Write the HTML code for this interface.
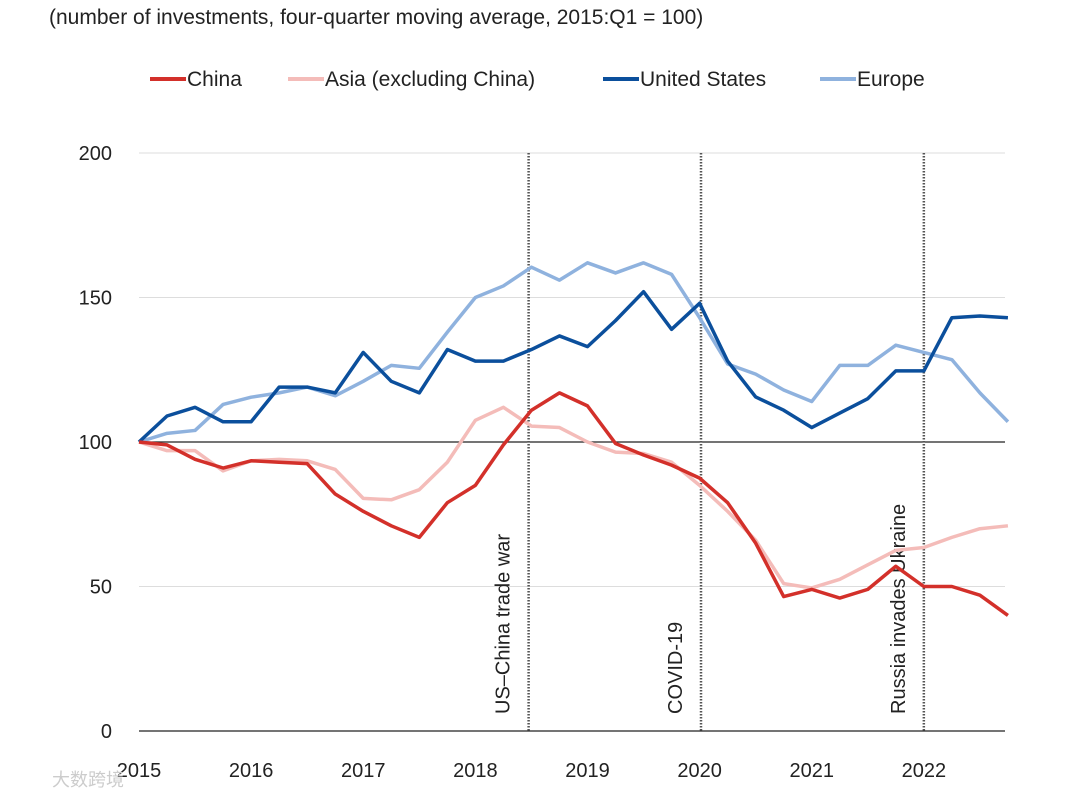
<!DOCTYPE html>
<html><head><meta charset="utf-8"><style>
body{margin:0;background:#fff;font-family:"Liberation Sans",sans-serif;}
svg text{font-family:"Liberation Sans",sans-serif;fill:#222;}
</style></head><body>
<svg width="1080" height="802" viewBox="0 0 1080 802">
<text x="49" y="24" font-size="21">(number of investments, four-quarter moving average, 2015:Q1 = 100)</text>
<g id="legend"></g>
<g id="grid"></g><g id="events"></g><g id="lines"></g><g id="axes"></g>
<text x="52" y="786" font-size="18" style="fill:#ccc">大数跨境</text>
</svg>
<script>
const years=["2015","2016","2017","2018","2019","2020","2021","2022"];
const yTicks=[0,50,100,150,200];
const china=[100,99,94,91,93.5,93,92.5,82,76,71,67,79,85,99,111,117,112.5,99.5,95.5,92,87.5,79,65,46.5,49,46,49,57,50,50,47,40];
const asia=[100,97,97,90,93.5,94,93.5,90.5,80.5,80,83.5,93,107.5,112,105.5,105,100,96.5,96,93,85,76,66,51,49.5,52.5,57.5,62.5,63.5,67,70,71];
const us=[100,109,112,107,107,119,119,117,131,121,117,132,128,128,132,136.7,133,142,152,139,148,128,115.6,111,105,110,115,124.6,124.6,143,143.6,143];
const europe=[100,103,104,113,115.5,117,119,116,121,126.5,125.5,138,150,154,160.5,156,162,158.5,162,158,143,127,123.5,118,114,126.5,126.5,133.5,131,128.5,117,107];
const eventNames=["US–China trade war","COVID-19","Russia invades Ukraine"];
const eventQ=[13.9,20.05,28];
const NS="http://www.w3.org/2000/svg";
const X=q=>139+q*28.03, Y=v=>731-v*2.89;
function mk(tag,attrs,parent,text){const e=document.createElementNS(NS,tag);for(const k in attrs)e.setAttribute(k,attrs[k]);if(text!==undefined)e.textContent=text;document.getElementById(parent).appendChild(e);return e;}
yTicks.forEach(v=>{
 const l=mk('line',{x1:139,x2:1005,y1:Y(v),y2:Y(v),stroke:(v===100||v===0)?'#222':'#ddd','stroke-width':(v===100||v===0)?1.3:1},'grid');
 
 
 const t=mk('text',{x:112,y:Y(v)+7,'font-size':20,'text-anchor':'end'},'axes',String(v));
 
 
});
years.forEach((yr,i)=>{
 const t=mk('text',{x:X(i*4),y:777,'font-size':20,'text-anchor':'middle'},'axes',yr);
 
 
});
eventNames.forEach((n,i)=>{
 const x=X(eventQ[i]);
 const l=mk('line',{x1:x,x2:x,y1:153,y2:731,stroke:'#555','stroke-width':2.5,'stroke-dasharray':'1.5,1.5'},'events');
 
 
 const t=mk('text',{x:0,y:0,'font-size':20,fill:'#333',transform:`translate(${x-19},714) rotate(-90)`},'events',n);
 
 
});
const series=[[asia,'#f4bcb9','asia'],[europe,'#8fb2de','europe'],[us,'#0b4f9c','united-states'],[china,'#d3302a','china']];
series.forEach(([d,c,n])=>{
 const p=mk('polyline',{points:d.map((v,i)=>X(i)+','+Y(v)).join(' '),fill:'none',stroke:c,'stroke-width':3.5,'stroke-linejoin':'round'},'lines');
 
 
});
const leg=[["China",'#d3302a',150],["Asia (excluding China)",'#f4bcb9',288],["United States",'#0b4f9c',603],["Europe",'#8fb2de',820]];
leg.forEach(([n,c,x])=>{
 const l=mk('line',{x1:x,x2:x+36,y1:79,y2:79,stroke:c,'stroke-width':4},'legend');
 
 
 const t=mk('text',{x:x+37,y:86,'font-size':21},'legend',n);
 
 
});
</script>
</body></html>
